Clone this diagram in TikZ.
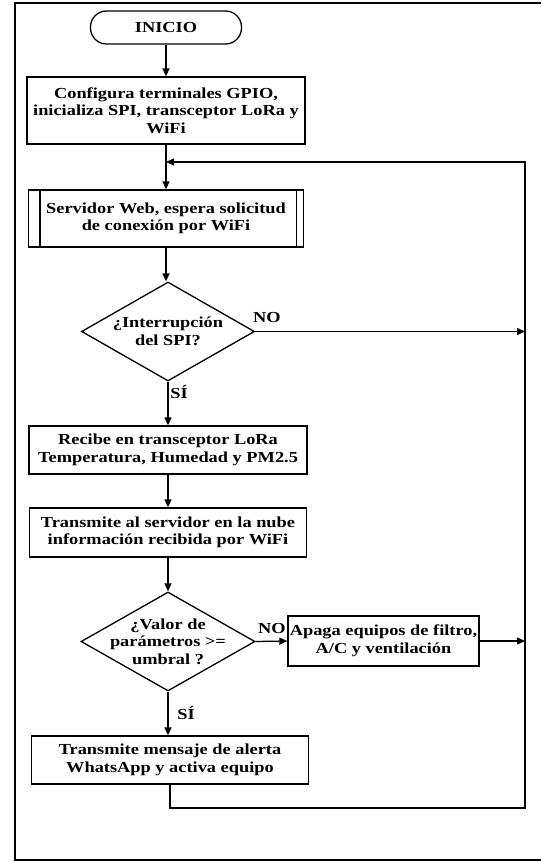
\documentclass[tikz,border=0pt]{standalone}
\usepackage{fontspec}
\setmainfont{Liberation Serif}[FakeStretch=1.2]
\usetikzlibrary{shapes.geometric,arrows.meta,calc}
\begin{document}
\begin{tikzpicture}[x=1pt,y=-1pt,
  txt/.style={font=\fontsize{15.3}{17.5}\selectfont\bfseries, align=center},
  ln/.style={line width=1.3pt, draw=black},
  arr/.style={ln, -{Triangle[length=8pt,width=7pt]}},
  proc/.style={txt, ln, rectangle, inner sep=0pt},
  term/.style={txt, ln, rectangle, rounded corners=16pt, inner sep=0pt},
  decision/.style={ln, diamond, inner sep=0pt},
  lbl/.style={txt, inner sep=0pt}
]
\useasboundingbox (0,0) rectangle (541,862);
\draw[line width=1.6pt] (541,3) -- (15,3) -- (15,860) -- (541,860);

\node[term, minimum width=151pt, minimum height=33pt] (ini) at (166,27.5) {INICIO};
\node[proc, minimum width=278pt, minimum height=67pt] (b1) at (166,110.5)
  {Configura terminales GPIO,\\inicializa SPI, transceptor LoRa y\\WiFi};
\node[proc, minimum width=275pt, minimum height=57pt] (sv) at (166,218.5)
  {Servidor Web, espera solicitud\\de conexión por WiFi};
\draw[ln] ([xshift=12pt]sv.north west) -- ([xshift=12pt]sv.south west);
\draw[ln] ([xshift=-8pt]sv.north east) -- ([xshift=-8pt]sv.south east);
\node[decision, minimum width=173pt, minimum height=99pt] (d1) at (168,331.5) {};
\node[txt] (d1t) at (d1.center) {¿Interrupción\\del SPI?};
\node[proc, minimum width=278pt, minimum height=48pt] (rc) at (168,450)
  {Recibe en transceptor LoRa\\Temperatura, Humedad y PM2.5};
\node[proc, minimum width=277pt, minimum height=49pt] (tx) at (168,532.5)
  {Transmite al servidor en la nube\\información recibida por WiFi};
\node[decision, minimum width=174pt, minimum height=99pt] (d2) at (168,641.5) {};
\node[txt] (d2t) at (d2.center) {¿Valor de\\parámetros >=\\umbral ?};
\node[proc, minimum width=191pt, minimum height=50pt] (ap) at (383.5,641)
  {Apaga equipos de filtro,\\A/C y ventilación};
\node[proc, minimum width=277pt, minimum height=48pt] (al) at (170,760)
  {Transmite mensaje de alerta\\WhatsApp y activa equipo};

\coordinate (lt) at (525,162);
\coordinate (lb) at (525,808);

\draw[arr] (ini) -- (ini |- b1.north);
\draw[arr] (b1.south -| sv.north) -- (sv.north);
\draw[arr] (sv) -- (sv |- d1.north);
\draw[arr] (d1.south) -- (d1 |- rc.north);
\draw[arr] (rc) -- (rc |- tx.north);
\draw[arr] (tx) -- (tx |- d2.north);
\draw[arr] (d2.south) -- (d2 |- al.north);
\draw[arr] (d1.east) -- (d1.east -| lt);
\draw[arr] (d2.east) -- (ap.west);
\draw[arr] (ap.east) -- (ap.east -| lt);
\draw[arr] (al.south) |- (lb) -- (lt) -- (sv.north |- lt);

\node[lbl] (no1) at (267,318) {NO};
\node[lbl] (no2) at (272,629) {NO};
\node[lbl] (si1) at (179,392) {SÍ};
\node[lbl] (si2) at (186,713) {SÍ};
\end{tikzpicture}
\end{document}
